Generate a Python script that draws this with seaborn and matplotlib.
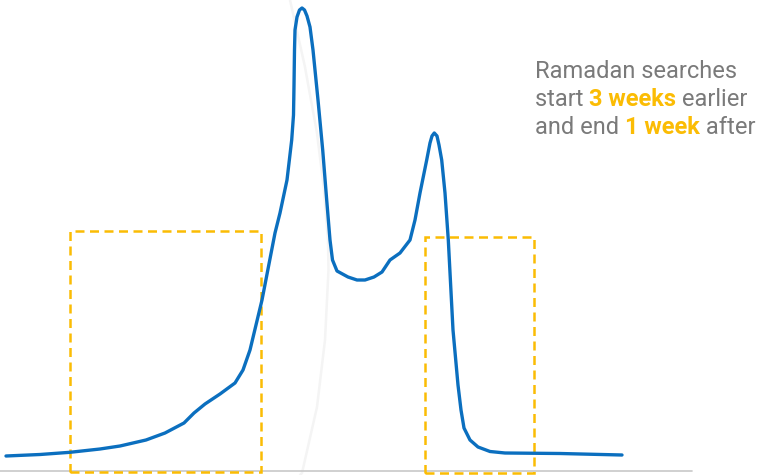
import matplotlib
matplotlib.use("Agg")
import matplotlib.pyplot as plt
import seaborn as sns
import pandas as pd
from matplotlib.patches import Rectangle

sns.set_theme(style="white")
plt.rcParams['font.family'] = ['Roboto', 'DejaVu Sans']

# search curve (x position, interest above baseline)
curve_x = [6, 40, 70, 100, 120, 146, 165, 184, 194, 205, 220, 235, 243, 250, 262,
           275, 280, 287, 291.7, 293.5, 294, 294, 294.5, 295, 297, 299.5, 302,
           304.5, 307, 310, 313, 318, 322.7, 326.7, 330, 332.5, 337, 348, 357,
           365, 374, 382, 390, 400, 410, 415, 420, 426.7, 430, 432, 434.3, 437,
           439, 441.7, 445, 448.3, 453, 458, 461, 464, 470, 478, 490, 505, 560, 622]
curve_y = [15, 16.5, 18.7, 22, 25, 31, 38, 48, 58, 67, 77, 88, 101, 121, 171,
           238, 258, 291, 331, 356, 371, 401, 421, 441, 454, 461, 463,
           461, 455, 444, 421, 371, 321, 271, 231, 211, 200, 194, 191,
           191, 194, 199, 211, 218, 231, 251, 278, 311, 328, 335, 338, 335,
           326, 311, 278, 231, 141, 86, 61, 43, 31, 24, 19.5, 18, 17.5, 16]

# highlighted windows: (left, right, top)
before_box = (70, 261, 240)
after_box = (425, 534, 234)

# faint background arc
arc_x = [290, 305, 317, 324, 328, 328.5, 325, 317, 302, 300]
arc_y = [471, 404, 338, 281, 231, 201, 131, 64, -2, -4]

df = pd.DataFrame({'x': curve_x, 'y': curve_y})

fig = plt.figure(figsize=(7.62, 4.75), dpi=100)
ax = fig.add_axes([0, 0, 1, 1])
ax.set_xlim(0, 762)
ax.set_ylim(-4, 471)
ax.axis('off')

ax.plot(arc_x, arc_y, color='#f4f4f4', linewidth=1.8, zorder=0)
ax.plot([0, 692], [0, 0], color='#c8c8c8', linewidth=1.2, zorder=1)

for left, right, top in [before_box, after_box]:
    bottom = -1 if left < 300 else -2
    ax.add_patch(Rectangle((left, bottom), right - left, top - bottom, fill=False,
                           edgecolor='#fbbc04', linewidth=1.8,
                           linestyle=(0, (3.6, 2.2)), zorder=2))

sns.lineplot(data=df, x='x', y='y', color='#0b6fbf', linewidth=2.4, ax=ax,
             sort=False, zorder=3)
ax.axis('off')

gray = '#7a7a7a'
yellow = '#fbbc04'
lines = [
    [("Ramadan searches", gray, 'normal')],
    [("start ", gray, 'normal'), ("3 weeks", yellow, 'semibold'), (" earlier", gray, 'normal')],
    [("and end ", gray, 'normal'), ("1 week", yellow, 'semibold'), (" after", gray, 'normal')],
]
fig.canvas.draw()
renderer = fig.canvas.get_renderer()
y_px = [72, 100, 128]
for parts, yp in zip(lines, y_px):
    x_px = 535
    for text, col, weight in parts:
        t = fig.text(x_px / 762, 1 - yp / 475, text, color=col, fontsize=17,
                     fontweight=weight, va='center', ha='left')
        bb = t.get_window_extent(renderer=renderer)
        x_px += bb.width

fig.savefig('out.png', dpi=100)
